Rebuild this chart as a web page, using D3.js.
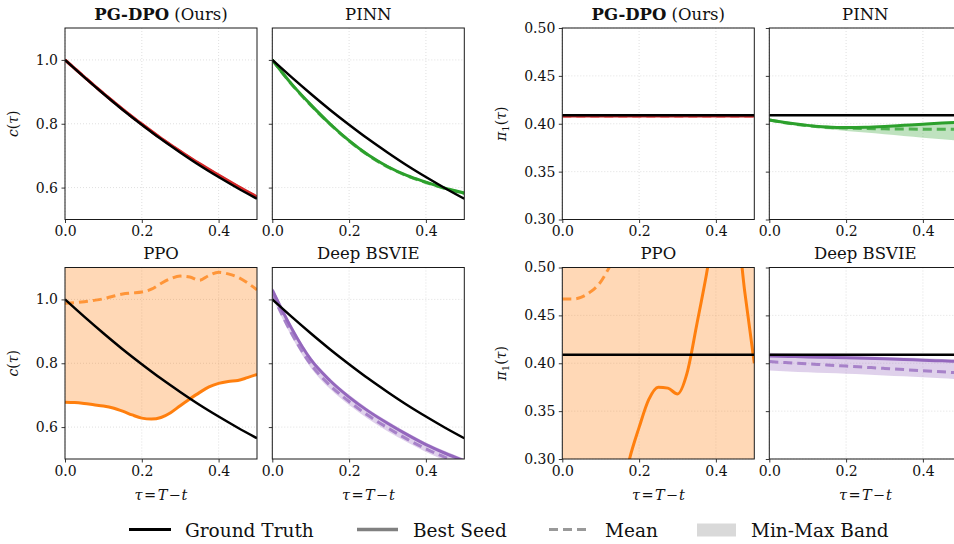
<!DOCTYPE html>
<html>
<head>
<meta charset="utf-8">
<script src="https://cdn.jsdelivr.net/npm/d3@7"></script>
<style>
  body { margin: 0; background: #fff; }
  text { font-family: 'DejaVu Serif', serif; fill: #111; }
</style>
</head>
<body>
<svg id="chart" width="954" height="544"></svg>
<script>
// time grid (tau = T - t)
var tau = [0, 0.05, 0.1, 0.15, 0.2, 0.25, 0.3, 0.35, 0.4, 0.45, 0.5];
var tauFine = [0, 0.025, 0.05, 0.075, 0.1, 0.125, 0.15, 0.175, 0.2, 0.225, 0.25,
  0.275, 0.3, 0.325, 0.35, 0.375, 0.4, 0.425, 0.45, 0.475, 0.5];

// ground truth
var cTrue = [1.0, 0.946, 0.894, 0.844, 0.797, 0.752, 0.710, 0.670, 0.633, 0.598, 0.565];
var piTrue = [0.409, 0.409, 0.409, 0.409, 0.409, 0.409, 0.409, 0.409, 0.409, 0.409, 0.409];

// PG-DPO
var pgdpoCBest = [1.0, 0.947, 0.895, 0.846, 0.799, 0.755, 0.714, 0.675, 0.639, 0.604, 0.571];
var pgdpoCMean = [1.0, 0.947, 0.895, 0.845, 0.798, 0.754, 0.713, 0.674, 0.638, 0.603, 0.570];
var pgdpoCMin = [0.999, 0.945, 0.893, 0.843, 0.796, 0.752, 0.711, 0.672, 0.636, 0.601, 0.568];
var pgdpoCMax = [1.001, 0.948, 0.896, 0.847, 0.800, 0.756, 0.715, 0.676, 0.640, 0.605, 0.572];
var pgdpoPiBest = [0.4082, 0.4082, 0.4081, 0.4081, 0.4081, 0.4081, 0.4081, 0.4081, 0.4081, 0.4081, 0.4081];
var pgdpoPiMean = [0.4081, 0.4081, 0.4081, 0.4080, 0.4080, 0.4080, 0.4080, 0.4080, 0.4080, 0.4080, 0.4080];
var pgdpoPiMin = [0.4079, 0.4079, 0.4079, 0.4078, 0.4078, 0.4078, 0.4078, 0.4078, 0.4078, 0.4078, 0.4078];
var pgdpoPiMax = [0.4083, 0.4083, 0.4083, 0.4083, 0.4083, 0.4083, 0.4083, 0.4083, 0.4083, 0.4083, 0.4083];

// PINN
var pinnCBest = [1.0, 0.925, 0.860, 0.800, 0.747, 0.702, 0.666, 0.638, 0.617, 0.598, 0.583];
var pinnCMean = [1.0, 0.924, 0.858, 0.799, 0.746, 0.701, 0.665, 0.637, 0.616, 0.597, 0.582];
var pinnCMin = [0.998, 0.922, 0.856, 0.797, 0.744, 0.699, 0.663, 0.635, 0.614, 0.595, 0.580];
var pinnCMax = [1.001, 0.926, 0.861, 0.801, 0.748, 0.703, 0.667, 0.639, 0.618, 0.599, 0.584];
var pinnPiBest = [0.4040, 0.4008, 0.3983, 0.3966, 0.3960, 0.3963, 0.3972, 0.3984, 0.3996, 0.4007, 0.4015];
var pinnPiMean = [0.4040, 0.4005, 0.3980, 0.3963, 0.3955, 0.3950, 0.3947, 0.3945, 0.3943, 0.3942, 0.3941];
var pinnPiMin = [0.4035, 0.3995, 0.3965, 0.3942, 0.3925, 0.3908, 0.3890, 0.3872, 0.3855, 0.3837, 0.3820];
var pinnPiMax = [0.4043, 0.4010, 0.3985, 0.3968, 0.3962, 0.3965, 0.3974, 0.3986, 0.3998, 0.4009, 0.4017];

// PPO (fine grid)
var ppoCBest = [0.678, 0.677, 0.674, 0.670, 0.666, 0.660, 0.650, 0.638, 0.628, 0.625, 0.630,
  0.645, 0.667, 0.688, 0.708, 0.726, 0.737, 0.743, 0.746, 0.755, 0.765];
var ppoCMean = [0.988, 0.990, 0.993, 0.997, 1.002, 1.010, 1.017, 1.020, 1.023, 1.032, 1.050,
  1.065, 1.073, 1.070, 1.060, 1.075, 1.085, 1.080, 1.070, 1.052, 1.030];
var ppoCMin = [0.678, 0.677, 0.674, 0.670, 0.666, 0.660, 0.650, 0.638, 0.628, 0.625, 0.630,
  0.645, 0.667, 0.688, 0.708, 0.726, 0.737, 0.743, 0.746, 0.755, 0.765];
var ppoCMax = [1.31, 1.33, 1.35, 1.36, 1.38, 1.40, 1.41, 1.43, 1.44, 1.46, 1.47,
  1.48, 1.50, 1.51, 1.52, 1.53, 1.54, 1.55, 1.56, 1.57, 1.58];
var ppoPiBest = [0.12, 0.13, 0.15, 0.17, 0.19, 0.22, 0.255, 0.30, 0.333, 0.362, 0.375,
  0.374, 0.368, 0.390, 0.440, 0.492, 0.550, 0.580, 0.560, 0.475, 0.400];
var ppoPiMean = [0.467, 0.467, 0.469, 0.475, 0.485, 0.502, 0.520, 0.540, 0.560, 0.580, 0.600,
  0.620, 0.640, 0.650, 0.660, 0.670, 0.680, 0.690, 0.695, 0.700, 0.705];
var ppoPiMin = [0.10, 0.10, 0.11, 0.11, 0.12, 0.12, 0.13, 0.13, 0.14, 0.14, 0.15,
  0.15, 0.16, 0.16, 0.17, 0.17, 0.18, 0.18, 0.19, 0.19, 0.20];
var ppoPiMax = [0.80, 0.81, 0.82, 0.83, 0.84, 0.85, 0.86, 0.87, 0.88, 0.89, 0.90,
  0.91, 0.92, 0.93, 0.94, 0.95, 0.96, 0.97, 0.98, 0.99, 1.00];

// Deep BSVIE
var bsvieCBest = [1.030, 0.910, 0.812, 0.746, 0.694, 0.650, 0.612, 0.577, 0.545, 0.518, 0.494];
var bsvieCMean = [1.016, 0.894, 0.797, 0.731, 0.680, 0.636, 0.598, 0.563, 0.532, 0.505, 0.482];
var bsvieCMin = [1.006, 0.884, 0.786, 0.720, 0.669, 0.625, 0.587, 0.553, 0.522, 0.495, 0.472];
var bsvieCMax = [1.040, 0.918, 0.820, 0.753, 0.701, 0.657, 0.619, 0.584, 0.552, 0.525, 0.501];
var bsviePiBest = [0.4076, 0.4071, 0.4066, 0.4062, 0.4058, 0.4053, 0.4047, 0.4040, 0.4032, 0.4025, 0.4018];
var bsviePiMean = [0.4017, 0.4005, 0.3993, 0.3982, 0.3970, 0.3958, 0.3946, 0.3934, 0.3922, 0.3910, 0.3898];
var bsviePiMin = [0.3925, 0.3915, 0.3905, 0.3897, 0.3890, 0.3882, 0.3873, 0.3864, 0.3854, 0.3843, 0.3832];
var bsviePiMax = [0.4110, 0.4102, 0.4095, 0.4088, 0.4080, 0.4073, 0.4066, 0.4059, 0.4052, 0.4045, 0.4038];

var cTicks = [0.6, 0.8, 1.0];
var piTicks = [0.30, 0.35, 0.40, 0.45, 0.50];
var xTicks = [0, 0.2, 0.4];

var svg = d3.select('#chart');
var W = 192, H = 191.5;
var colors = {pgdpo: '#d62728', pinn: '#2ca02c', ppo: '#ff7f0e', bsvie: '#9467bd'};

var panels = [
  {x: 65, y: 28, q: 'c', m: 'pgdpo', title: 'PG-DPO', ours: true, lab: true,
    t: tau, best: pgdpoCBest, mean: pgdpoCMean, lo: pgdpoCMin, hi: pgdpoCMax},
  {x: 272.3, y: 28, q: 'c', m: 'pinn', title: 'PINN',
    t: tau, best: pinnCBest, mean: pinnCMean, lo: pinnCMin, hi: pinnCMax},
  {x: 65, y: 267.5, q: 'c', m: 'ppo', title: 'PPO', lab: true, xlab: true,
    t: tauFine, best: ppoCBest, mean: ppoCMean, lo: ppoCMin, hi: ppoCMax},
  {x: 272.3, y: 267.5, q: 'c', m: 'bsvie', title: 'Deep BSVIE', xlab: true,
    t: tau, best: bsvieCBest, mean: bsvieCMean, lo: bsvieCMin, hi: bsvieCMax},
  {x: 562.3, y: 28, q: 'pi', m: 'pgdpo', title: 'PG-DPO', ours: true, lab: true,
    t: tau, best: pgdpoPiBest, mean: pgdpoPiMean, lo: pgdpoPiMin, hi: pgdpoPiMax},
  {x: 769.3, y: 28, q: 'pi', m: 'pinn', title: 'PINN',
    t: tau, best: pinnPiBest, mean: pinnPiMean, lo: pinnPiMin, hi: pinnPiMax},
  {x: 562.3, y: 267.5, q: 'pi', m: 'ppo', title: 'PPO', lab: true, xlab: true,
    t: tauFine, best: ppoPiBest, mean: ppoPiMean, lo: ppoPiMin, hi: ppoPiMax},
  {x: 769.3, y: 267.5, q: 'pi', m: 'bsvie', title: 'Deep BSVIE', xlab: true,
    t: tau, best: bsviePiBest, mean: bsviePiMean, lo: bsviePiMin, hi: bsviePiMax}
];

var defs = svg.append('defs');

panels.forEach(function(p, k) {
  var g = svg.append('g')
    .attr('transform', 'translate(' + p.x + ',' + p.y + ')');
  var x = d3.scaleLinear().domain([0, 0.5]).range([0, W]);
  var y = d3.scaleLinear()
    .domain(p.q == 'c' ? [0.5, 1.1] : [0.3, 0.5])
    .range([H, 0]);
  var yt = p.q == 'c' ? cTicks : piTicks;
  var col = colors[p.m];

  // dotted grid
  g.selectAll('.gx').data(xTicks).enter().append('line')
    .attr('x1', function(d) {return x(d);}).attr('x2', function(d) {return x(d);})
    .attr('y1', 0).attr('y2', H)
    .attr('stroke', '#d8d8d8').attr('stroke-width', 0.8).attr('stroke-dasharray', '1,2');
  g.selectAll('.gy').data(yt).enter().append('line')
    .attr('y1', function(d) {return y(d);}).attr('y2', function(d) {return y(d);})
    .attr('x1', 0).attr('x2', W)
    .attr('stroke', '#d8d8d8').attr('stroke-width', 0.8).attr('stroke-dasharray', '1,2');

  defs.append('clipPath').attr('id', 'clip' + k)
    .append('rect').attr('width', W).attr('height', H);
  var plot = g.append('g').attr('clip-path', 'url(#clip' + k + ')');

  var idx = d3.range(p.t.length);
  var band = d3.area()
    .x(function(i) {return x(p.t[i]);})
    .y0(function(i) {return y(p.lo[i]);})
    .y1(function(i) {return y(p.hi[i]);})
    .curve(d3.curveMonotoneX);
  var line = function(arr) {
    return d3.line()
      .x(function(i) {return x(p.t[i]);})
      .y(function(i) {return y(arr[i]);})
      .curve(d3.curveMonotoneX)(idx);
  };

  plot.append('path').attr('d', band(idx))
    .attr('fill', col).attr('fill-opacity', 0.3);
  plot.append('path').attr('d', line(p.mean))
    .attr('fill', 'none').attr('stroke', col).attr('stroke-opacity', 0.75)
    .attr('stroke-width', 3).attr('stroke-dasharray', '9,5');
  plot.append('path').attr('d', line(p.best))
    .attr('fill', 'none').attr('stroke', col).attr('stroke-width', 3);
  var truth = p.q == 'c' ? cTrue : piTrue;
  plot.append('path')
    .attr('d', d3.line()
      .x(function(i) {return x(tau[i]);})
      .y(function(i) {return y(truth[i]);})
      .curve(d3.curveMonotoneX)(d3.range(tau.length)))
    .attr('fill', 'none').attr('stroke', '#000').attr('stroke-width', 2.5);

  // axes
  var ya = d3.axisLeft(y).tickValues(yt).tickSize(3.5).tickPadding(3.5)
    .tickFormat(p.lab ? d3.format(p.q == 'c' ? '.1f' : '.2f') : '');
  var xa = d3.axisBottom(x).tickValues(xTicks).tickSize(3.5).tickPadding(3.5)
    .tickFormat(d3.format('.1f'));
  g.append('g').call(ya);
  g.append('g').attr('transform', 'translate(0,' + H + ')').call(xa);
  g.selectAll('.domain').remove();
  g.selectAll('.tick line').attr('stroke', '#222').attr('stroke-width', 0.9);
  g.selectAll('.tick text')
    .style('font-family', "'DejaVu Serif', serif").style('font-size', '14px').attr('fill', '#111');

  g.append('rect').attr('width', W).attr('height', H)
    .attr('fill', 'none').attr('stroke', '#1a1a1a').attr('stroke-width', 1);

  // title
  var tt = g.append('text').attr('x', W / 2).attr('y', p.y < 100 ? -8.5 : -9)
    .attr('text-anchor', 'middle').style('font-size', '16.5px');
  tt.append('tspan').attr('font-weight', p.ours ? 'bold' : 'normal').text(p.title);
  if (p.ours) tt.append('tspan').text(' (Ours)');

  // y label
  if (p.lab) {
    var yl = g.append('text')
      .attr('transform', 'translate(' + (p.q == 'c' ? -47 : -56) + ',' + (H / 2) + ') rotate(-90)')
      .attr('text-anchor', 'middle').style('font-size', '14px');
    if (p.q == 'c') {
      yl.append('tspan').attr('font-style', 'italic').text('c');
      yl.append('tspan').text('(');
      yl.append('tspan').attr('font-style', 'italic').text('τ');
      yl.append('tspan').text(')');
    } else {
      yl.append('tspan').attr('font-style', 'italic').text('π');
      yl.append('tspan').attr('dy', 3).style('font-size', '10px').text('1');
      yl.append('tspan').attr('dy', -3).text('(');
      yl.append('tspan').attr('font-style', 'italic').text('τ');
      yl.append('tspan').text(')');
    }
  }

  // x label
  if (p.xlab) {
    var xl = g.append('text').attr('x', W / 2).attr('y', H + 40.5)
      .attr('text-anchor', 'middle').style('font-size', '14.5px');
    xl.append('tspan').attr('font-style', 'italic').text('τ');
    xl.append('tspan').attr('dx', 1.5).text('=');
    xl.append('tspan').attr('dx', 1.5).attr('font-style', 'italic').text('T');
    xl.append('tspan').attr('dx', 1).text('−');
    xl.append('tspan').attr('dx', 1).attr('font-style', 'italic').text('t');
  }
});

// legend
var legendItems = ['Ground Truth', 'Best Seed', 'Mean', 'Min-Max Band'];
var legendX = [129, 357, 549, 697];
var lg = svg.append('g').attr('transform', 'translate(0,529.5)');
legendItems.forEach(function(name, i) {
  var x0 = legendX[i];
  if (i == 0) {
    lg.append('line').attr('x1', x0).attr('x2', x0 + 42).attr('stroke', '#000').attr('stroke-width', 3);
  } else if (i == 1) {
    lg.append('line').attr('x1', x0).attr('x2', x0 + 41).attr('stroke', '#808080').attr('stroke-width', 3.5);
  } else if (i == 2) {
    lg.append('line').attr('x1', x0).attr('x2', x0 + 38).attr('stroke', '#999')
      .attr('stroke-width', 3).attr('stroke-dasharray', '9,5');
  } else {
    lg.append('rect').attr('x', x0).attr('y', -6).attr('width', 39).attr('height', 13)
      .attr('fill', '#d9d9d9');
  }
  lg.append('text').attr('x', x0 + (i == 3 ? 54 : 56)).attr('y', 7)
    .style('font-size', '18.5px').text(name);
});
</script>
</body>
</html>
